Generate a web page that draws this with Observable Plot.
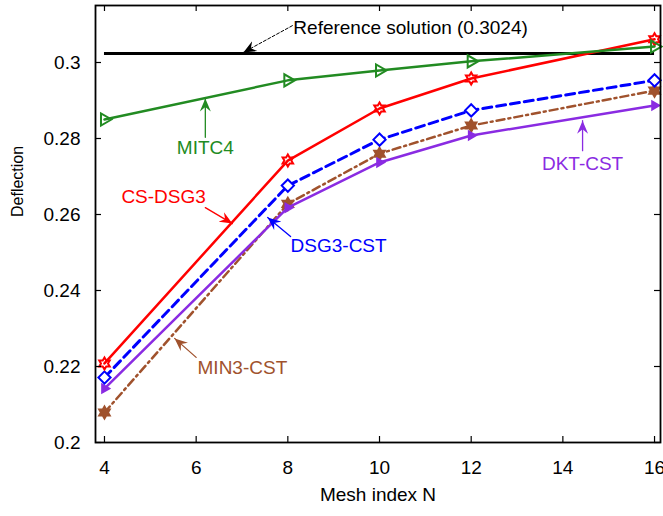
<!DOCTYPE html>
<html>
<head>
<meta charset="utf-8">
<script src="https://cdn.jsdelivr.net/npm/d3@7"></script>
<script src="https://cdn.jsdelivr.net/npm/@observablehq/plot@0.6"></script>
<style>
  html, body { margin: 0; padding: 0; background: #fff; }
  #chart svg { display: block; }
</style>
</head>
<body>
<div id="chart"></div>
<script>
// Mesh refinement study: plate centre deflection vs. mesh index N
const meshN = [4, 8, 10, 12, 16];
const mitc4 = [0.2850, 0.2953, 0.2979, 0.3003, 0.3042];
const csDsg3 = [0.2208, 0.2742, 0.2879, 0.2958, 0.3061];
const dsg3Cst = [0.2171, 0.2676, 0.2797, 0.2874, 0.2953];
const min3Cst = [0.2079, 0.2628, 0.2760, 0.2834, 0.2926];
const dktCst = [0.2142, 0.2618, 0.2737, 0.2808, 0.2887];
const referenceSolution = 0.3024;

const xTicks = [4, 6, 8, 10, 12, 14, 16];
const yTicks = [0.2, 0.22, 0.24, 0.26, 0.28, 0.3];

// Callout labels with their leader arrows (tail -> tip, in data units)
const callouts = [
  {text: "Reference solution (0.3024)", color: "#000000", x: 8.12, y: 0.3092, anchor: "start",
   from: [8.1, 0.3097], to: [7.03, 0.30265], dashed: true},
  {text: "MITC4", color: "#228b22", x: 6.2, y: 0.2776, anchor: "middle",
   from: [6.2, 0.2803], to: [6.2, 0.2905]},
  {text: "CS-DSG3", color: "#ff0000", x: 5.29, y: 0.2645, anchor: "middle",
   from: [6.2, 0.2618], to: [6.79, 0.2576]},
  {text: "DSG3-CST", color: "#0000ff", x: 8.06, y: 0.2518, anchor: "start",
   from: [8.06, 0.2542], to: [7.56, 0.2592]},
  {text: "MIN3-CST", color: "#a0522d", x: 6.03, y: 0.2195, anchor: "start",
   from: [6.0, 0.2224], to: [5.53, 0.2274]},
  {text: "DKT-CST", color: "#8a2be2", x: 14.43, y: 0.2734, anchor: "middle",
   from: [14.43, 0.2768], to: [14.43, 0.2847]}
];

// Six-pointed star symbol
const hexagram = {
  draw(context, size) {
    const r = Math.sqrt(size / Math.PI) * 1.1;
    const ri = r / Math.sqrt(3);
    for (let i = 0; i < 12; ++i) {
      const a = (i * Math.PI) / 6 - Math.PI / 2;
      const rr = i % 2 === 0 ? r : ri;
      const px = rr * Math.cos(a), py = rr * Math.sin(a);
      if (i === 0) context.moveTo(px, py); else context.lineTo(px, py);
    }
    context.closePath();
  }
};

// Filled barbed arrowhead for the callout leaders
function arrowHead(color) {
  const m = d3.create("svg:marker")
    .attr("viewBox", "-13 -6 14 12")
    .attr("markerWidth", 14)
    .attr("markerHeight", 12)
    .attr("markerUnits", "userSpaceOnUse")
    .attr("orient", "auto")
    .attr("refX", 0)
    .attr("refY", 0)
    .attr("fill", color)
    .attr("stroke", "none");
  m.append("path").attr("d", "M0,0L-13,-5.5L-8.5,0L-13,5.5Z");
  return m.node();
}

const series = [
  {name: "MIN3-CST", values: min3Cst, color: "#a0522d", dash: "8,4,2,4", width: 2.5,
   symbol: hexagram, r: 5.5, fill: "#a0522d", rotate: 0},
  {name: "DKT-CST", values: dktCst, color: "#8a2be2", dash: null, width: 2.5,
   symbol: "triangle", r: 3, fill: "#8a2be2", rotate: 90},
  {name: "DSG3-CST", values: dsg3Cst, color: "#0000ff", dash: "9,5", width: 3,
   symbol: "diamond2", r: 5.5, fill: "white", rotate: 0},
  {name: "CS-DSG3", values: csDsg3, color: "#ff0000", dash: null, width: 2.5,
   symbol: hexagram, r: 5.5, fill: "none", rotate: 0},
  {name: "MITC4", values: mitc4, color: "#228b22", dash: null, width: 2.5,
   symbol: "triangle", r: 4.5, fill: "none", rotate: 90}
];

const rows = s => meshN.map((n, i) => ({N: n, value: s.values[i]}));

const W = 663, H = 516;
const mTop = 5, mBottom = 74, mLeft = 95, mRight = 3;
const frameW = W - mLeft - mRight, frameH = H - mTop - mBottom;
const tickLen = 6;
const fs = 19;

const marks = [
  // reference solution
  Plot.ruleY([referenceSolution], {x1: meshN[0], x2: meshN[meshN.length - 1], stroke: "black", strokeWidth: 3})
];

for (const s of series) {
  marks.push(Plot.line(rows(s), {
    x: "N", y: "value", stroke: s.color, strokeWidth: s.width,
    strokeDasharray: s.dash ?? undefined, strokeLinejoin: "round"
  }));
  marks.push(Plot.dot(rows(s), {
    x: "N", y: "value", symbol: s.symbol, r: s.r, rotate: s.rotate,
    stroke: s.color, strokeWidth: 2, fill: s.fill === "none" ? "white" : s.fill,
    fillOpacity: s.fill === "none" ? 0 : 1
  }));
}

// callouts
for (const c of callouts) {
  marks.push(Plot.line([c.from, c.to], {
    x: d => d[0], y: d => d[1], stroke: c.color, strokeWidth: c.dashed ? 1 : 1.3,
    strokeDasharray: c.dashed ? "3,2" : undefined, markerEnd: arrowHead
  }));
  marks.push(Plot.text([c], {
    x: "x", y: "y", text: "text", fill: c.color, textAnchor: c.anchor,
    fontSize: fs, lineAnchor: "middle"
  }));
}

// inward ticks on all four sides
marks.push(
  Plot.tickX(xTicks, {x: d => d, insetTop: frameH - tickLen, stroke: "black", strokeWidth: 1.2}),
  Plot.tickX(xTicks, {x: d => d, insetBottom: frameH - tickLen, stroke: "black", strokeWidth: 1.2}),
  Plot.tickY(yTicks, {y: d => d, insetRight: frameW - tickLen, stroke: "black", strokeWidth: 1.2}),
  Plot.tickY(yTicks, {y: d => d, insetLeft: frameW - tickLen, stroke: "black", strokeWidth: 1.2}),
  Plot.frame({stroke: "black", strokeWidth: 1.8}),
  Plot.axisX(xTicks, {tickSize: 0, tickPadding: 18, label: null, fontSize: fs}),
  Plot.axisY(yTicks, {tickSize: 0, tickPadding: 15, label: null, fontSize: fs, tickFormat: d => String(d)}),
  Plot.text(["Mesh index N"], {frameAnchor: "bottom", dy: 58, fontSize: fs, fill: "black"}),
  Plot.text(["Deflection"], {frameAnchor: "left", dx: -78, dy: -7, rotate: -90, fontSize: 16, fill: "black"})
);

const chart = Plot.plot({
  width: W,
  height: H,
  marginTop: mTop,
  marginBottom: mBottom,
  marginLeft: mLeft,
  marginRight: mRight,
  style: {fontFamily: "'Liberation Sans', Arial, sans-serif", fontSize: fs + "px", color: "black", background: "white"},
  x: {domain: [3.804, 16.13]},
  y: {domain: [0.2, 0.315]},
  marks
});

document.getElementById("chart").append(chart);
</script>
</body>
</html>
